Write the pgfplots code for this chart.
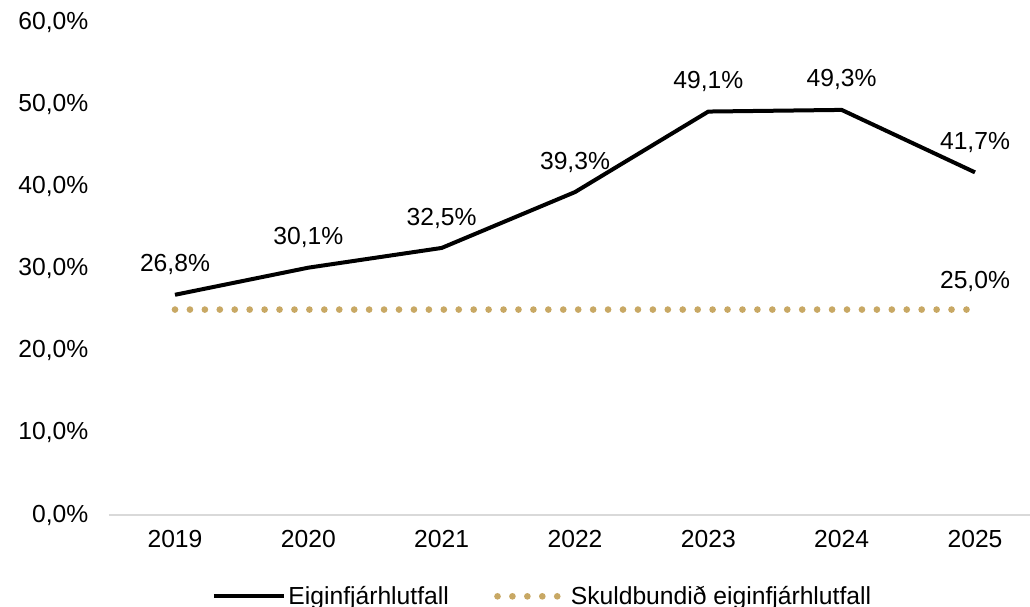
\documentclass[border=0pt]{standalone}
\usepackage{pgfplots}
\pgfplotsset{compat=1.18}
\usepackage{fontspec}
\setmainfont{Liberation Sans}
\definecolor{gold}{RGB}{200,168,100}
\definecolor{axgray}{RGB}{217,217,217}
\begin{document}
\begin{tikzpicture}[x=1pt,y=1pt]
\begin{axis}[
  name=ax,
  scale only axis,
  width=690.75pt, height=369.75pt,
  xmin=-0.495, xmax=6.4125,
  ymin=0, ymax=60,
  xtick={0,1,2,3,4,5,6},
  xticklabels={2019,2020,2021,2022,2023,2024,2025},
  ytick={0,10,20,30,40,50,60},
  yticklabel={\pgfmathprintnumber[fixed,fixed zerofill,precision=1,use comma]{\tick}\%},
  /pgf/number format/assume math mode=true,
  font=\fontsize{18.5}{22}\selectfont,
  axis x line=bottom,
  axis y line=left,
  x axis line style={-, draw=axgray, line width=1.5pt},
  y axis line style={draw=none},
  major tick length=0pt,
  tick style={draw=none},
  xticklabel style={yshift=-8pt},
  yticklabel style={xshift=-12pt},
  clip=false,
  legend columns=2,
  legend style={at={(0.471,0)}, anchor=center, yshift=-61pt, draw=none, fill=none,
    font=\fontsize{18.5}{22}\selectfont,
    /tikz/every even column/.append style={column sep=32pt}},
  legend cell align=left,
]
\addplot[black, line width=3pt, line join=round,
  nodes near coords={\pgfmathprintnumber[fixed,fixed zerofill,precision=1,use comma]{\pgfplotspointmeta}\%},
  nodes near coords style={anchor=south, yshift=10pt, text=black, font=\fontsize{18.5}{22}\selectfont},
  legend image code/.code={\draw[black, line width=3pt] (0pt,0pt) -- (52.5pt,0pt);}]
  coordinates {(0,26.8) (1,30.1) (2,32.5) (3,39.3) (4,49.1) (5,49.3) (6,41.7)};
\addlegendentry{Eiginfjárhlutfall}
\addplot[gold, line width=5pt, line cap=round, dash pattern=on 0pt off 11.2pt,
  legend image code/.code={\draw[gold, line width=5pt, line cap=round, dash pattern=on 0pt off 11.2pt] (2pt,0pt) -- (52.5pt,0pt);}]
  coordinates {(0,25) (1,25) (2,25) (3,25) (4,25) (5,25) (6,25)};
\addlegendentry{Skuldbundið eiginfjárhlutfall}
\node[anchor=south, font=\fontsize{18.5}{22}\selectfont] at (axis cs:6,25) [yshift=10pt] {25,0\%};
\end{axis}
\pgfresetboundingbox
\path ([shift={(-81.75pt,-69pt)}]ax.south west) rectangle ([shift={(0pt,16.5pt)}]ax.north east);
\end{tikzpicture}
\end{document}
